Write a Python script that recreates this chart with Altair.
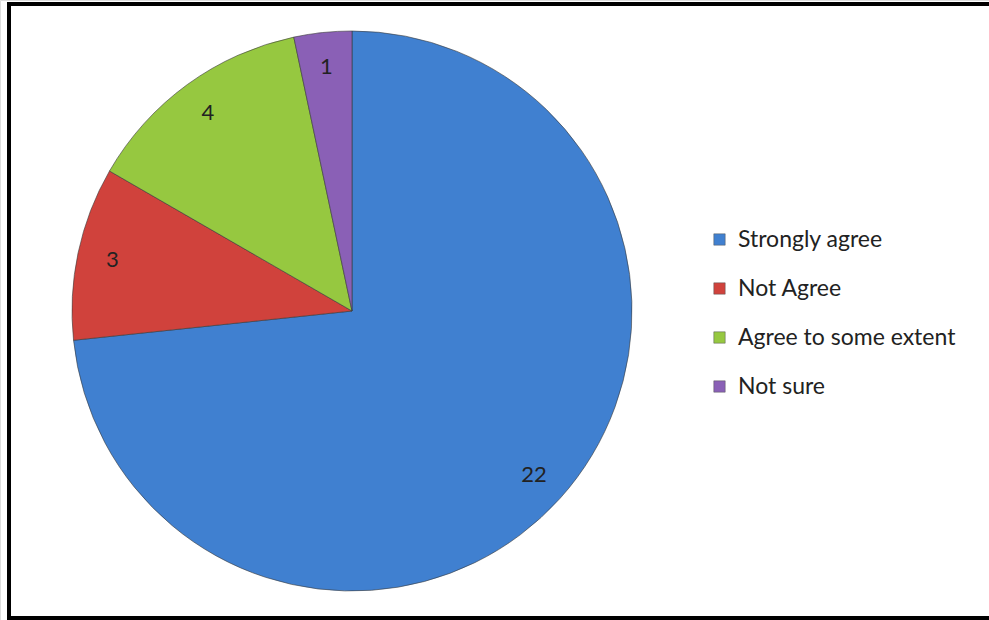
import altair as alt
import pandas as pd

categories = ["Strongly agree", "Not Agree", "Agree to some extent", "Not sure"]
values = [22, 3, 4, 1]
colors = ["#4080D0", "#D0423C", "#96C840", "#8A60B6"]

df = pd.DataFrame({"category": categories, "value": values, "order": list(range(len(categories)))})

cx, cy = 352, 311

base = alt.Chart(df).encode(
    theta=alt.Theta("value:Q", stack=True),
    order=alt.Order("order:Q"),
)

pie = base.mark_arc(radius=280, stroke="#3a3a3a", strokeWidth=1, strokeOpacity=0.6).encode(
    x=alt.value(cx),
    y=alt.value(cy),
    color=alt.Color(
        "category:N",
        scale=alt.Scale(domain=categories, range=colors),
        legend=alt.Legend(
            title=None,
            orient="none",
            legendX=708,
            legendY=228,
            symbolType="square",
            symbolSize=130,
            symbolStrokeWidth=0.5,
            symbolStrokeColor="#555",
            labelFont="Lato",
            labelFontSize=23,
            labelLimit=400,
            labelColor="#222",
            rowPadding=25,
            labelOffset=7,
        ),
    ),
)

labels = base.mark_text(radius=245, font="Lato", fontSize=22, color="#222").encode(
    x=alt.value(cx),
    y=alt.value(cy),
    text=alt.Text("value:Q"),
)

frame = alt.Chart(pd.DataFrame({"a": [0]})).mark_rect(
    fill=None, stroke="black", strokeWidth=4
).encode(
    x=alt.value(9), x2=alt.value(995), y=alt.value(4), y2=alt.value(618)
)

chart = alt.layer(pie, labels, frame).properties(
    width=989, height=620, padding=0, autosize=alt.AutoSizeParams(type="none")
).configure_view(stroke=None).configure(background="white")

chart.save("out.html", embed_options={"renderer": "svg", "actions": False})
